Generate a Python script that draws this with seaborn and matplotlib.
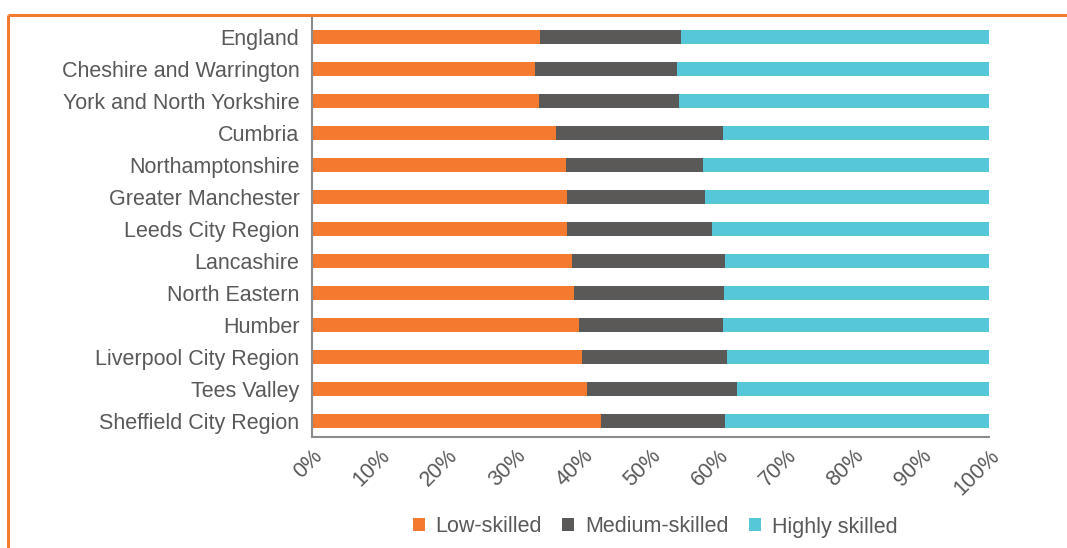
import matplotlib
matplotlib.use("Agg")
import matplotlib.pyplot as plt
from matplotlib.lines import Line2D
from matplotlib.patches import Patch
import seaborn as sns
import pandas as pd

regions = ["England", "Cheshire and Warrington", "York and North Yorkshire", "Cumbria",
           "Northamptonshire", "Greater Manchester", "Leeds City Region", "Lancashire",
           "North Eastern", "Humber", "Liverpool City Region", "Tees Valley",
           "Sheffield City Region"]
low_skilled = [33.7, 32.9, 33.5, 36.0, 37.5, 37.7, 37.7, 38.4, 38.7, 39.4, 39.9, 40.6, 42.7]
medium_skilled = [20.8, 21.0, 20.7, 24.7, 20.3, 20.4, 21.4, 22.6, 22.2, 21.3, 21.4, 22.2, 18.3]
highly_skilled = [45.5, 46.1, 45.8, 39.3, 42.2, 41.9, 40.9, 39.0, 39.1, 39.3, 38.7, 37.2, 39.0]
series_names = ["Low-skilled", "Medium-skilled", "Highly skilled"]
tick_values = [0, 10, 20, 30, 40, 50, 60, 70, 80, 90, 100]
tick_labels = [f"{v}%" for v in tick_values]

colors = ["#F47A30", "#5B5957", "#56C6D9"]
text_color = "#595959"

df = pd.DataFrame({"region": regions, "low": low_skilled,
                   "medium": medium_skilled, "high": highly_skilled})
df["c1"] = df["low"]
df["c2"] = df["low"] + df["medium"]
df["c3"] = df["c2"] + df["high"]

sns.set_style("white")
plt.rcParams["font.family"] = ["Liberation Sans", "DejaVu Sans"]

fig = plt.figure(figsize=(10.67, 5.48), dpi=100)
ax = fig.add_axes([312/1067, 1-437/548, (989-312)/1067, (437-17)/548])

for col, c in zip(["c3", "c2", "c1"], colors[::-1]):
    sns.barplot(data=df, x=col, y="region", order=regions, color=c,
                orient="h", width=0.41, ax=ax, saturation=1, linewidth=0)

ax.set_xlim(0, 100)
ax.set_ylim(12.5, -0.625)
ax.set_xlabel("")
ax.set_ylabel("")
ax.set_xticks(tick_values)
ax.set_xticklabels(tick_labels, rotation=45, ha="right", va="top",
                   rotation_mode="anchor", fontsize=15.5, color=text_color)
ax.tick_params(axis="y", labelsize=15.5, labelcolor=text_color, length=0, pad=9)
ax.tick_params(axis="x", length=0, pad=6)
for s in ["top", "right"]:
    ax.spines[s].set_visible(False)
for s in ["left", "bottom"]:
    ax.spines[s].set_color("#8C8C8C")
    ax.spines[s].set_linewidth(1.5)

handles = [Patch(facecolor=c, edgecolor="none") for c in colors]
fig.legend(handles, series_names, loc="center", bbox_to_anchor=(655/1067, 1-527/548),
           ncol=3, frameon=False, fontsize=15.5, labelcolor=text_color,
           handlelength=0.56, handleheight=0.56, handletextpad=0.5, columnspacing=0.95)

fig.add_artist(Line2D([8/1067, 1.0], [1-15/548, 1-15/548], transform=fig.transFigure,
                      color="#F47A30", lw=2.2, solid_capstyle="butt"))
fig.add_artist(Line2D([8/1067, 8/1067], [1-15/548, 0.0], transform=fig.transFigure,
                      color="#F47A30", lw=2.2, solid_capstyle="butt"))

fig.savefig("out.png", dpi=100)
